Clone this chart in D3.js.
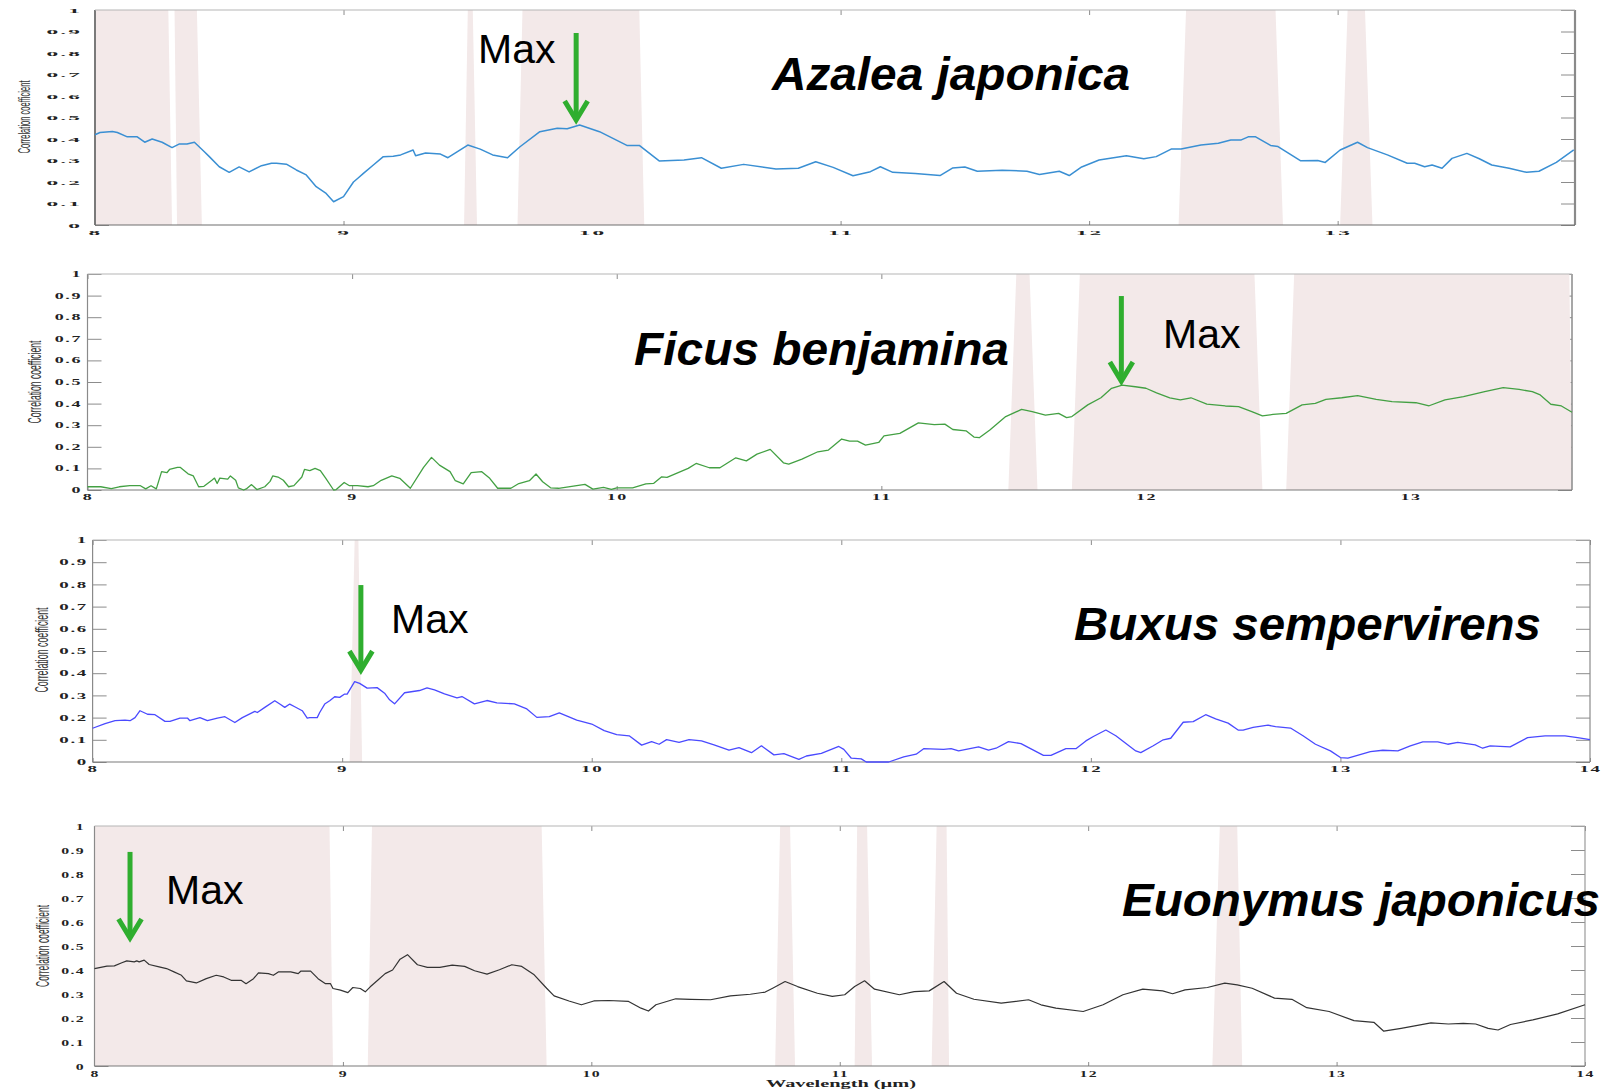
<!DOCTYPE html>
<html>
<head>
<meta charset="utf-8">
<script src="https://cdn.jsdelivr.net/npm/d3@7"></script>
<style>
  body { margin: 0; background: #fff; }
  svg { display: block; }
</style>
</head>
<body>
<svg id="chart" width="1614" height="1091"></svg>
<script>
// ---------- shared axis ticks ----------
const xTicks = [8, 9, 10, 11, 12, 13, 14];
const xTickLabels = ['8', '9', '10', '11', '12', '13', '14'];
const yTicks = [0, 0.1, 0.2, 0.3, 0.4, 0.5, 0.6, 0.7, 0.8, 0.9, 1];
const yTickLabels = ['0', '0.1', '0.2', '0.3', '0.4', '0.5', '0.6', '0.7', '0.8', '0.9', '1'];
const yTitle = 'Correlation coefficient';
const xTitle = 'Wavelength (\u00b5m)';

// ---------- species names ----------
const speciesNames = ['Azalea japonica', 'Ficus benjamina', 'Buxus sempervirens', 'Euonymus japonicus'];

// ---------- correlation coefficient vs wavelength (µm) ----------
const azaleaSeries = [
  [8.00,0.420],[8.02,0.430],[8.07,0.435],[8.09,0.430],[8.13,0.410],[8.17,0.410],[8.20,0.385],[8.23,0.400],
  [8.27,0.385],[8.31,0.360],[8.34,0.377],[8.37,0.377],[8.40,0.385],[8.44,0.341],[8.46,0.318],[8.50,0.271],
  [8.54,0.245],[8.58,0.270],[8.62,0.247],[8.67,0.276],[8.71,0.287],[8.73,0.287],[8.77,0.283],[8.81,0.256],
  [8.85,0.233],[8.89,0.178],[8.93,0.147],[8.96,0.108],[9.00,0.132],[9.04,0.200],[9.06,0.220],[9.08,0.240],
  [9.12,0.279],[9.16,0.318],[9.20,0.320],[9.23,0.326],[9.28,0.349],[9.29,0.322],[9.33,0.335],[9.39,0.330],
  [9.42,0.313],[9.50,0.372],[9.55,0.353],[9.60,0.326],[9.66,0.313],[9.71,0.364],[9.79,0.434],[9.86,0.450],
  [9.90,0.448],[9.95,0.465],[10.03,0.434],[10.14,0.370],[10.19,0.370],[10.27,0.298],[10.37,0.302],[10.44,0.313],
  [10.52,0.264],[10.61,0.282],[10.74,0.260],[10.83,0.264],[10.90,0.294],[10.97,0.268],[11.05,0.229],[11.12,0.248],
  [11.16,0.271],[11.21,0.245],[11.30,0.240],[11.40,0.230],[11.45,0.265],[11.50,0.270],[11.55,0.250],[11.65,0.255],
  [11.75,0.250],[11.80,0.235],[11.88,0.250],[11.92,0.230],[11.97,0.270],[12.04,0.302],[12.15,0.322],[12.22,0.308],
  [12.27,0.318],[12.33,0.353],[12.37,0.353],[12.45,0.372],[12.52,0.380],[12.57,0.395],[12.61,0.395],[12.64,0.410],
  [12.67,0.410],[12.73,0.370],[12.76,0.365],[12.85,0.299],[12.92,0.300],[12.95,0.291],[13.01,0.349],[13.08,0.385],
  [13.12,0.360],[13.20,0.326],[13.28,0.287],[13.31,0.287],[13.35,0.271],[13.38,0.279],[13.42,0.264],[13.46,0.310],
  [13.52,0.333],[13.57,0.308],[13.62,0.279],[13.69,0.264],[13.76,0.245],[13.81,0.250],[13.88,0.291],[13.95,0.349]
];

const ficusSeries = [
  [8.00,0.015],[8.05,0.015],[8.09,0.006],[8.12,0.015],[8.16,0.020],[8.20,0.020],[8.22,0.005],[8.24,0.020],
  [8.26,0.005],[8.28,0.085],[8.30,0.080],[8.31,0.095],[8.34,0.105],[8.35,0.105],[8.38,0.075],[8.40,0.065],
  [8.42,0.015],[8.44,0.017],[8.47,0.045],[8.48,0.055],[8.49,0.030],[8.50,0.055],[8.53,0.050],[8.54,0.065],
  [8.56,0.045],[8.57,0.010],[8.59,0.000],[8.60,0.005],[8.62,0.025],[8.64,0.002],[8.67,0.015],[8.69,0.040],
  [8.70,0.065],[8.72,0.060],[8.74,0.045],[8.76,0.015],[8.78,0.020],[8.81,0.060],[8.82,0.095],[8.84,0.090],
  [8.86,0.100],[8.88,0.090],[8.90,0.055],[8.93,0.000],[8.94,0.002],[8.97,0.035],[8.99,0.020],[9.02,0.020],
  [9.06,0.015],[9.08,0.020],[9.11,0.045],[9.15,0.065],[9.18,0.054],[9.22,0.008],[9.27,0.105],[9.30,0.151],
  [9.33,0.115],[9.37,0.085],[9.39,0.043],[9.42,0.028],[9.45,0.080],[9.49,0.085],[9.52,0.054],[9.55,0.008],
  [9.60,0.008],[9.63,0.030],[9.67,0.043],[9.695,0.074],[9.72,0.038],[9.75,0.010],[9.78,0.008],[9.88,0.026],
  [9.91,0.004],[9.95,0.012],[9.98,0.003],[10.00,0.010],[10.06,0.010],[10.11,0.028],[10.14,0.031],[10.17,0.061],
  [10.19,0.058],[10.27,0.100],[10.30,0.123],[10.35,0.103],[10.39,0.103],[10.45,0.149],[10.49,0.135],[10.53,0.166],
  [10.58,0.188],[10.63,0.126],[10.65,0.120],[10.70,0.143],[10.76,0.177],[10.80,0.185],[10.85,0.236],[10.88,0.226],
  [10.91,0.226],[10.94,0.208],[10.99,0.220],[11.01,0.251],[11.07,0.262],[11.14,0.311],[11.20,0.303],[11.24,0.305],
  [11.27,0.280],[11.32,0.274],[11.35,0.245],[11.37,0.242],[11.41,0.278],[11.44,0.309],[11.47,0.340],[11.53,0.373],
  [11.57,0.363],[11.62,0.347],[11.67,0.355],[11.70,0.335],[11.72,0.340],[11.78,0.394],[11.83,0.427],[11.87,0.471],
  [11.91,0.486],[11.96,0.478],[12.00,0.471],[12.04,0.450],[12.09,0.427],[12.13,0.417],[12.17,0.427],[12.23,0.398],
  [12.30,0.389],[12.35,0.386],[12.40,0.363],[12.44,0.343],[12.48,0.350],[12.53,0.355],[12.59,0.394],[12.64,0.401],
  [12.68,0.420],[12.74,0.427],[12.80,0.437],[12.87,0.420],[12.93,0.409],[13.02,0.404],[13.07,0.390],[13.13,0.417],
  [13.20,0.432],[13.28,0.455],[13.35,0.474],[13.41,0.466],[13.46,0.455],[13.49,0.440],[13.53,0.397],[13.57,0.389],
  [13.61,0.360]
];

const buxusSeries = [
  [8.00,0.152],[8.05,0.173],[8.09,0.186],[8.13,0.189],[8.15,0.186],[8.17,0.200],[8.19,0.231],[8.22,0.215],
  [8.25,0.213],[8.29,0.183],[8.31,0.183],[8.35,0.198],[8.38,0.198],[8.39,0.186],[8.43,0.200],[8.46,0.186],
  [8.50,0.198],[8.53,0.204],[8.57,0.178],[8.60,0.200],[8.65,0.228],[8.66,0.223],[8.69,0.246],[8.73,0.276],
  [8.75,0.261],[8.77,0.246],[8.79,0.261],[8.81,0.249],[8.84,0.231],[8.86,0.198],[8.87,0.200],[8.90,0.200],
  [8.91,0.223],[8.93,0.261],[8.95,0.276],[8.97,0.294],[8.99,0.291],[9.01,0.306],[9.02,0.306],[9.05,0.362],
  [9.07,0.354],[9.10,0.333],[9.14,0.335],[9.17,0.310],[9.19,0.280],[9.21,0.262],[9.25,0.312],[9.31,0.322],
  [9.34,0.334],[9.37,0.325],[9.41,0.307],[9.46,0.289],[9.48,0.295],[9.53,0.262],[9.58,0.277],[9.62,0.266],
  [9.69,0.262],[9.74,0.239],[9.78,0.201],[9.83,0.204],[9.87,0.221],[9.94,0.189],[10.00,0.171],[10.05,0.141],
  [10.10,0.123],[10.15,0.118],[10.20,0.076],[10.24,0.092],[10.27,0.080],[10.30,0.101],[10.35,0.088],[10.39,0.101],
  [10.44,0.095],[10.49,0.077],[10.55,0.053],[10.59,0.065],[10.64,0.042],[10.68,0.073],[10.73,0.032],[10.77,0.038],
  [10.83,0.012],[10.86,0.027],[10.92,0.039],[10.99,0.070],[11.01,0.057],[11.04,0.017],[11.08,0.014],[11.10,0.000],
  [11.19,0.000],[11.25,0.023],[11.30,0.035],[11.33,0.060],[11.41,0.057],[11.44,0.060],[11.47,0.050],[11.55,0.068],
  [11.59,0.054],[11.62,0.062],[11.67,0.092],[11.72,0.083],[11.81,0.030],[11.84,0.030],[11.90,0.060],[11.94,0.060],
  [11.98,0.095],[12.01,0.115],[12.06,0.144],[12.10,0.118],[12.18,0.050],[12.20,0.042],[12.25,0.073],[12.29,0.100],
  [12.32,0.107],[12.37,0.179],[12.41,0.182],[12.46,0.213],[12.50,0.194],[12.55,0.175],[12.59,0.144],[12.61,0.144],
  [12.65,0.156],[12.71,0.166],[12.74,0.159],[12.80,0.153],[12.85,0.118],[12.90,0.080],[12.96,0.050],[13.00,0.020],
  [13.03,0.017],[13.12,0.047],[13.17,0.053],[13.23,0.050],[13.28,0.073],[13.33,0.091],[13.39,0.091],[13.43,0.080],
  [13.47,0.088],[13.54,0.077],[13.57,0.062],[13.60,0.073],[13.68,0.068],[13.75,0.110],[13.82,0.118],[13.90,0.118],
  [13.95,0.110],[14.00,0.101]
];

const euonymusSeries = [
  [8.00,0.406],[8.05,0.416],[8.08,0.417],[8.11,0.430],[8.13,0.438],[8.16,0.434],[8.17,0.438],[8.18,0.434],
  [8.20,0.441],[8.22,0.423],[8.26,0.413],[8.29,0.406],[8.32,0.392],[8.35,0.378],[8.37,0.355],[8.41,0.346],
  [8.45,0.364],[8.49,0.378],[8.52,0.371],[8.55,0.357],[8.59,0.357],[8.61,0.343],[8.64,0.364],[8.66,0.388],
  [8.70,0.385],[8.72,0.378],[8.74,0.392],[8.79,0.392],[8.82,0.385],[8.83,0.395],[8.87,0.395],[8.90,0.364],
  [8.93,0.343],[8.95,0.343],[8.96,0.323],[8.99,0.316],[9.02,0.306],[9.04,0.327],[9.07,0.323],[9.09,0.309],
  [9.11,0.330],[9.14,0.357],[9.17,0.385],[9.20,0.400],[9.23,0.445],[9.26,0.464],[9.30,0.422],[9.34,0.411],
  [9.39,0.411],[9.44,0.420],[9.49,0.415],[9.53,0.397],[9.58,0.383],[9.63,0.401],[9.68,0.422],[9.72,0.415],
  [9.77,0.380],[9.82,0.324],[9.85,0.292],[9.91,0.271],[9.96,0.255],[10.01,0.271],[10.07,0.273],[10.15,0.269],
  [10.20,0.241],[10.23,0.229],[10.26,0.255],[10.34,0.280],[10.40,0.278],[10.48,0.276],[10.56,0.292],[10.64,0.299],
  [10.70,0.308],[10.73,0.324],[10.78,0.352],[10.83,0.331],[10.91,0.303],[10.97,0.290],[11.02,0.297],[11.06,0.331],
  [11.10,0.355],[11.14,0.320],[11.24,0.297],[11.30,0.310],[11.36,0.313],[11.42,0.352],[11.47,0.303],[11.54,0.278],
  [11.65,0.262],[11.76,0.276],[11.81,0.255],[11.87,0.241],[11.98,0.227],[12.06,0.255],[12.14,0.297],[12.22,0.320],
  [12.30,0.313],[12.34,0.301],[12.39,0.317],[12.48,0.327],[12.55,0.345],[12.60,0.338],[12.66,0.324],[12.75,0.283],
  [12.82,0.278],[12.88,0.243],[12.97,0.227],[13.07,0.189],[13.15,0.182],[13.19,0.145],[13.26,0.157],[13.32,0.168],
  [13.38,0.180],[13.45,0.175],[13.51,0.178],[13.56,0.175],[13.61,0.157],[13.65,0.150],[13.70,0.173],[13.79,0.192],
  [13.89,0.217],[14.00,0.255]
];

// ---------- highlighted wavelength bands: [top start, top end, bottom start, bottom end] (µm) ----------
const azaleaBands = [[8.00,8.295,8.00,8.31],[8.32,8.41,8.33,8.43],[9.50,9.52,9.485,9.537],
                     [9.72,10.19,9.70,10.21],[12.39,12.75,12.36,12.78],[13.04,13.11,13.01,13.14]];
const ficusBands = [[11.51,11.56,11.48,11.59],[11.75,12.41,11.72,12.44],[12.56,13.60,12.53,13.61]];
const buxusBands = [[9.05,9.065,9.03,9.08]];
const euonymusBands = [[8.00,8.946,8.00,8.96],[9.117,9.80,9.10,9.82],[10.76,10.80,10.74,10.82],
                       [11.07,11.11,11.06,11.13],[11.39,11.43,11.37,11.44],[12.53,12.60,12.50,12.62]];

// ---------- "Max" markers: [wavelength, arrow tail value, arrow tip value] ----------
const maxMarkers = [[9.936,0.893,0.479],[11.907,0.898,0.495],[9.075,0.797,0.405],[8.143,0.892,0.525]];

// ---------- panel layout ----------
const panels = [
  { series: azaleaSeries, bands: azaleaBands, xMax: 13.955, color: '#3a8fd3', lw: 1.5,
    left: 95, right: 1575, top: 10, bottom: 225,
    frame: { left: ['#7a7a7a', 2], right: ['#8a8a8a', 2.2], top: ['#b5b5b5', 1], bottom: ['#6f6f6f', 1.2] },
    lab: { sx: 2.6, sy: 0.75, pad: 13, xOff: 8 },
    title: { x: 24, y: 117, len: 73, fs: 16 },
    maxText: [478, 63], name: [772, 90, 358] },
  { series: ficusSeries, bands: ficusBands, xMax: 13.61, color: '#43a043', lw: 1.3,
    left: 87.5, right: 1572, top: 274, bottom: 490,
    frame: { left: ['#8a8a8a', 1.2], right: ['#8a8a8a', 1.5], top: ['#b5b5b5', 1], bottom: ['#7a7a7a', 1.2] },
    lab: { sx: 2.0, sy: 0.8, pad: 5.5, xOff: 8 },
    title: { x: 35, y: 382, len: 83, fs: 18 },
    maxText: [1163, 348], name: [634, 365, 375] },
  { series: buxusSeries, bands: buxusBands, xMax: 14, color: '#4a4aff', lw: 1.3,
    left: 92.6, right: 1590, top: 540, bottom: 762,
    frame: { left: ['#8a8a8a', 1.2], right: ['#8a8a8a', 1.2], top: ['#b5b5b5', 1], bottom: ['#7a7a7a', 1.2] },
    lab: { sx: 2.1, sy: 0.85, pad: 4.6, xOff: 7 },
    title: { x: 42, y: 650, len: 85, fs: 18 },
    maxText: [391, 633], name: [1074, 640, 467] },
  { series: euonymusSeries, bands: euonymusBands, xMax: 14, color: '#333333', lw: 1.2,
    left: 94.5, right: 1585, top: 826, bottom: 1066,
    frame: { left: ['#8a8a8a', 1.2], right: ['#9a9a9a', 1.2], top: ['#b5b5b5', 1], bottom: ['#7a7a7a', 1.2] },
    lab: { sx: 1.75, sy: 1.0, pad: 9.5, xOff: 8 },
    title: { x: 43, y: 946, len: 82, fs: 18 },
    maxText: [166, 904], name: [1122, 916, 478] }
];

const svg = d3.select('#chart');
const bandFill = '#f3e9e9';
const arrowColor = '#2fae2f';
const labelFont = '"Liberation Serif", "DejaVu Serif", serif';

// stretch axis tick labels the way the exported figure renders them
function stretchLabels(axisG, sx, sy, anchor, offsetY) {
  axisG.selectAll('.tick text').each(function () {
    const t = d3.select(this);
    const x = +t.attr('x') || 0;
    const y = offsetY != null ? offsetY : (+t.attr('y') || 0);
    t.attr('x', 0).attr('y', 0)
      .attr('dy', '0.34em')
      .attr('text-anchor', anchor)
      .attr('transform', `translate(${x},${y}) scale(${sx},${sy})`);
  });
}

panels.forEach((p, i) => {
  const x = d3.scaleLinear().domain([8, p.xMax]).range([p.left, p.right]);
  const y = d3.scaleLinear().domain([0, 1]).range([p.bottom, p.top]);
  const g = svg.append('g');
  const visibleX = xTicks.filter(v => v <= p.xMax + 1e-9);

  const axisStyle = sel => {
    sel.select('.domain').remove();
    sel.selectAll('.tick line').attr('stroke', '#8c8c8c').attr('stroke-width', 1);
    sel.selectAll('.tick text')
      .attr('fill', '#222')
      .style('font-family', labelFont)
      .style('font-weight', 'bold')
      .style('font-size', '9px')
      .style('letter-spacing', '0.8px');
  };

  // left axis with labels (ticks point inward)
  const gl = g.append('g').attr('transform', `translate(${p.left},0)`)
    .call(d3.axisLeft(y).tickValues(yTicks).tickFormat((d, k) => yTickLabels[k])
      .tickSizeInner(-14).tickSizeOuter(0).tickPadding(p.lab.pad))
    .call(axisStyle);
  stretchLabels(gl, p.lab.sx, p.lab.sy, 'end');

  // right axis, ticks only
  g.append('g').attr('transform', `translate(${p.right},0)`)
    .call(d3.axisRight(y).tickValues(yTicks).tickFormat('').tickSizeInner(-14).tickSizeOuter(0))
    .call(axisStyle);

  // bottom axis with labels
  const gb = g.append('g').attr('transform', `translate(0,${p.bottom})`)
    .call(d3.axisBottom(x).tickValues(visibleX)
      .tickFormat(d => xTickLabels[xTicks.indexOf(d)])
      .tickSizeInner(-4).tickSizeOuter(0))
    .call(axisStyle);
  stretchLabels(gb, p.lab.sx, p.lab.sy, 'middle', p.lab.xOff);

  // top axis, ticks only
  g.append('g').attr('transform', `translate(0,${p.top})`)
    .call(d3.axisTop(x).tickValues(visibleX).tickFormat('').tickSizeInner(-5).tickSizeOuter(0))
    .call(axisStyle);

  // highlighted bands (slightly tapered towards the top)
  g.append('g').selectAll('polygon').data(p.bands).join('polygon')
    .attr('points', b => [[x(b[0]), y(1)], [x(b[1]), y(1)], [x(b[3]), y(0)], [x(b[2]), y(0)]]
      .map(q => q.join(',')).join(' '))
    .attr('fill', bandFill);

  // axes box
  const f = p.frame;
  const edges = [
    ['left', p.left, p.top, p.left, p.bottom],
    ['right', p.right, p.top, p.right, p.bottom],
    ['top', p.left, p.top, p.right, p.top],
    ['bottom', p.left, p.bottom, p.right, p.bottom]
  ];
  g.append('g').selectAll('line').data(edges).join('line')
    .attr('x1', e => e[1]).attr('y1', e => e[2]).attr('x2', e => e[3]).attr('y2', e => e[4])
    .attr('stroke', e => f[e[0]][0]).attr('stroke-width', e => f[e[0]][1]);

  // correlation curve
  const line = d3.line().x(d => x(d[0])).y(d => y(d[1]));
  g.append('path').datum(p.series)
    .attr('d', line)
    .attr('fill', 'none')
    .attr('stroke', p.color)
    .attr('stroke-width', p.lw)
    .attr('stroke-linejoin', 'round');

  // y-axis title (condensed)
  g.append('text')
    .attr('transform', `translate(${p.title.x},${p.title.y}) rotate(-90)`)
    .attr('text-anchor', 'middle')
    .attr('dy', '0.35em')
    .attr('textLength', p.title.len)
    .attr('lengthAdjust', 'spacingAndGlyphs')
    .attr('fill', '#333')
    .style('font-family', '"Liberation Sans Narrow", "Liberation Sans", Arial, sans-serif')
    .style('font-size', p.title.fs + 'px')
    .text(yTitle);

  // "Max" marker arrow
  const m = maxMarkers[i];
  const ax = x(m[0]), yTail = y(m[1]), yTip = y(m[2]);
  const arrow = g.append('g').attr('stroke', arrowColor).attr('stroke-width', 5).attr('fill', 'none');
  arrow.append('line').attr('x1', ax).attr('x2', ax).attr('y1', yTail).attr('y2', yTip - 3);
  arrow.append('polyline')
    .attr('points', `${ax - 11.5},${yTip - 21} ${ax},${yTip - 2} ${ax + 11.5},${yTip - 21}`)
    .attr('stroke-linejoin', 'miter');

  g.append('text')
    .attr('x', p.maxText[0]).attr('y', p.maxText[1])
    .attr('fill', '#000')
    .style('font-family', '"Liberation Sans", Arial, sans-serif')
    .style('font-size', '41px')
    .text('Max');

  // species name
  g.append('text')
    .attr('x', p.name[0]).attr('y', p.name[1])
    .attr('textLength', p.name[2])
    .attr('lengthAdjust', 'spacingAndGlyphs')
    .attr('fill', '#000')
    .style('font-family', '"Liberation Sans", Arial, sans-serif')
    .style('font-weight', 'bold')
    .style('font-style', 'italic')
    .style('font-size', '47px')
    .text(speciesNames[i]);
});

// shared x-axis title under the last panel
svg.append('text')
  .attr('x', 841).attr('y', 1083)
  .attr('text-anchor', 'middle')
  .attr('dy', '0.35em')
  .attr('textLength', 150)
  .attr('lengthAdjust', 'spacingAndGlyphs')
  .attr('fill', '#222')
  .style('font-family', labelFont)
  .style('font-weight', 'bold')
  .style('font-size', '11px')
  .text(xTitle);
</script>
</body>
</html>
